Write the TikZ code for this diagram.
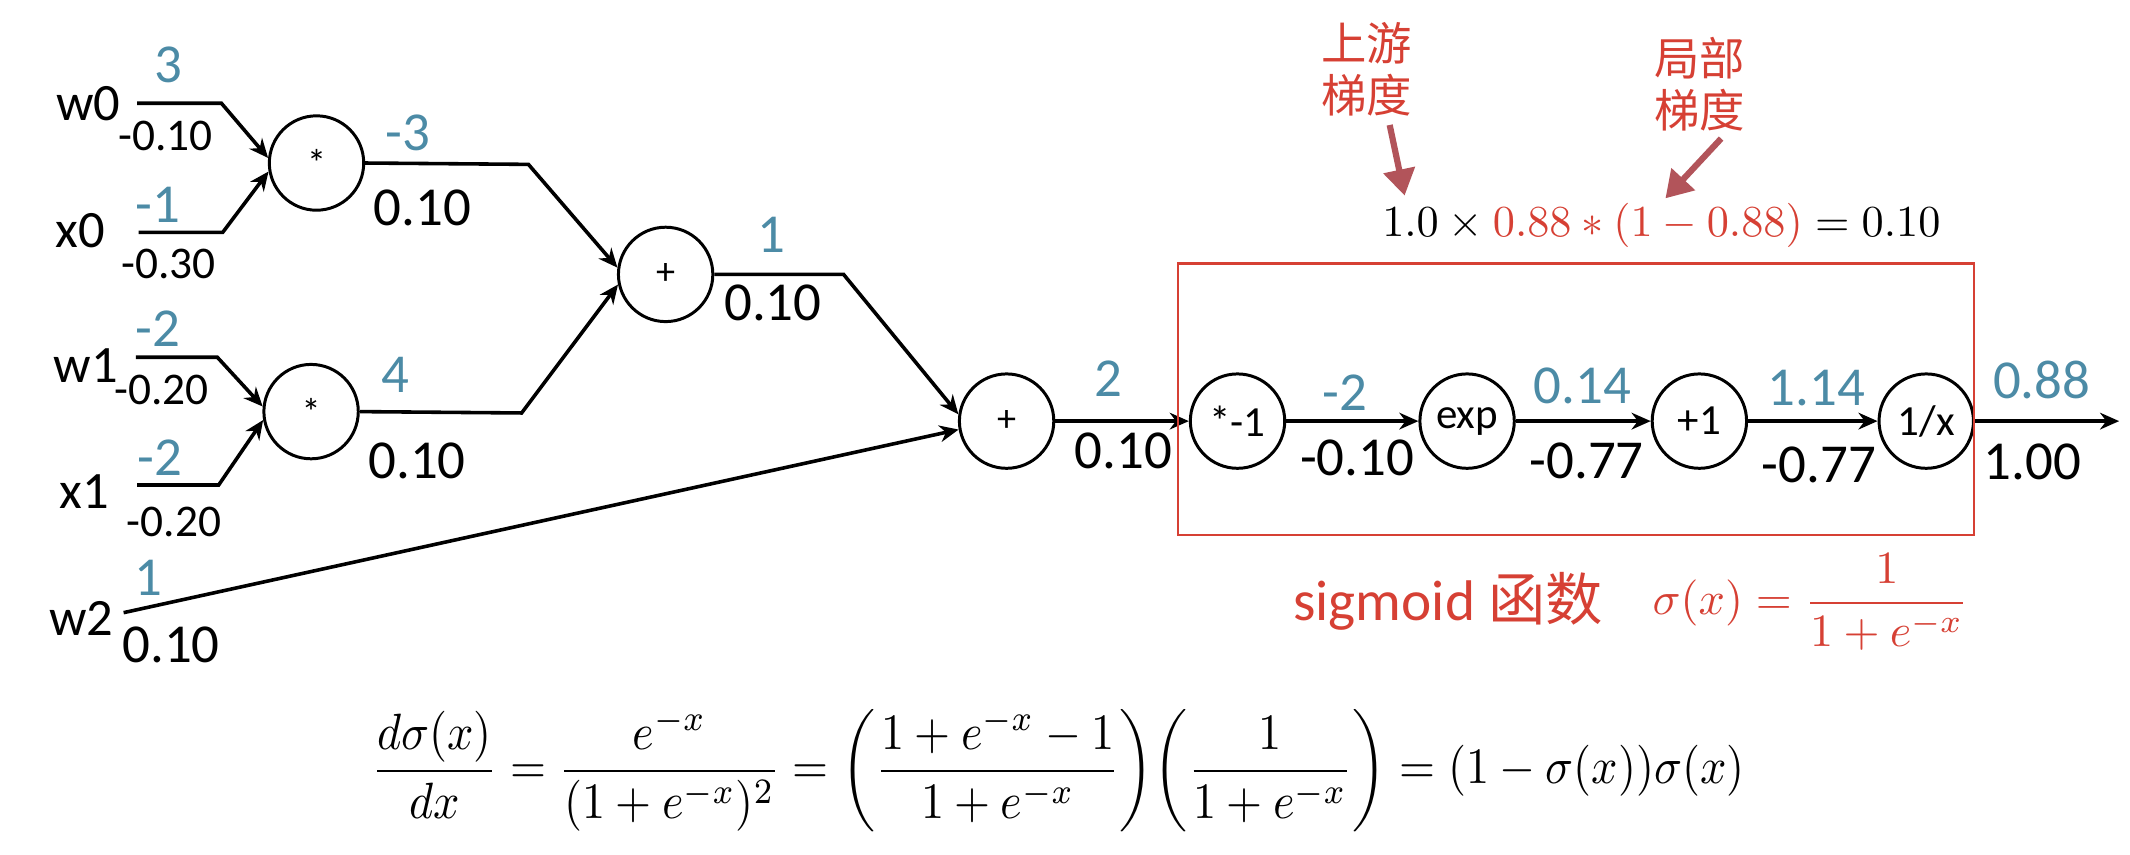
\documentclass[tikz,border=0pt]{standalone}
\usepackage[no-math]{fontspec}
\setmainfont{Carlito}
\newfontfamily\cjk{Noto Sans CJK SC}
\usepackage{amsmath}
\usetikzlibrary{arrows.meta}
\definecolor{gblue}{RGB}{76,139,166}
\definecolor{sred}{RGB}{214,64,52}
\definecolor{ared}{RGB}{178,84,90}
\begin{document}
\begin{tikzpicture}[x=0.02cm, y=-0.02cm,
  op/.style={circle, draw, line width=1.25pt, minimum size=1.39cm, inner sep=0pt, font=\fontsize{18}{18}\selectfont},
  big/.style={font=\fontsize{23}{23}\selectfont, inner sep=0pt},
  bl/.style={big, text=gblue},
  sm/.style={font=\fontsize{19}{19}\selectfont, inner sep=0pt},
  inp/.style={font=\fontsize{22}{22}\selectfont, inner sep=0pt},
  wire/.style={line width=1.5pt},
  arr/.style={wire, -{Stealth[length=8pt,width=7pt]}},
  redarr/.style={line width=2.6pt, ared, -{Triangle[length=11pt,width=13pt]}},
  cjkt/.style={text=sred, font=\cjk\fontsize{19}{21.5}\selectfont, align=center, inner sep=0pt}]
\useasboundingbox (0,0) rectangle (1568,629);
% operation nodes
\node[op, font=\fontsize{16}{16}\selectfont] (m1) at (233,120) {*};
\node[op, font=\fontsize{16}{16}\selectfont] (m2) at (229,303) {*};
\node[op, font=\fontsize{16}{16}\selectfont] (a1) at (490,202) {+};
\node[op, font=\fontsize{16}{16}\selectfont] (a2) at (741,310) {+};
\node[op] (n1) at (911,310) {*-1};
\node[op] (e1) at (1080,310) {exp};
\node[op] (p1) at (1251,310) {+1};
\node[op] (r1) at (1418,310) {1/x};
% input names
\node[inp] (w0) at (65,76) {w0};
\node[inp] (x0) at (59,170) {x0};
\node[inp] (w1) at (63,269) {w1};
\node[inp] (x1) at (62,362) {x1};
\node[inp] (w2) at (60,455) {w2};
% wire coordinates
\coordinate (w0s) at (101,76);  \coordinate (w0k) at (163,76);
\coordinate (x0s) at (102,171); \coordinate (x0k) at (164,171);
\coordinate (w1s) at (100,263); \coordinate (w1k) at (160,263);
\coordinate (x1s) at (101,357); \coordinate (x1k) at (161,357);
\coordinate (w2s) at (91,451);
\coordinate (m1k) at (389,121);
\coordinate (m2k) at (384,304);
\coordinate (a1k) at (621,202);
\coordinate (outE) at (1560,310);
% wires
\draw[arr] (w0s) -- (w0k) -- (m1.174);
\draw[arr] (x0s) -- (x0k) -- (m1.190);
\draw[arr] (w1s) -- (w1k) -- (m2.174);
\draw[arr] (x1s) -- (x1k) -- (m2.190);
\draw[arr] (m1.east) -- (m1k) -- (a1.172);
\draw[arr] (m2.east) -- (m2k) -- (a1.192);
\draw[arr] (a1.east) -- (a1k) -- (a2.172);
\draw[arr] (w2s) -- (a2.190);
\draw[arr] (a2) -- (n1);
\draw[arr] (n1) -- (e1);
\draw[arr] (e1) -- (p1);
\draw[arr] (p1) -- (r1);
\draw[arr] (r1) -- (outE);
% value labels (blue) and gradients (black)
\node[bl] (v1) at (124,48) {3};
\node[sm] (g1) at (122,100) {-0.10};
\node[bl] (v2) at (116,151) {-1};
\node[sm] (g2) at (124,194) {-0.30};
\node[bl] (v3) at (116,242) {-2};
\node[sm] (g3) at (119,287) {-0.20};
\node[bl] (v4) at (118,337) {-2};
\node[sm] (g4) at (128,384) {-0.20};
\node[bl] (v5) at (109,425) {1};
\node[big] (g5) at (126,475) {0.10};
\node[bl] (v6) at (300,98) {-3};
\node[big] (g6) at (311,153) {0.10};
\node[bl] (v7) at (291,276) {4};
\node[big] (g7) at (307,339) {0.10};
\node[bl] (v8) at (568,173) {1};
\node[big] (g8) at (569,223) {0.10};
\node[bl] (v9) at (816,279) {2};
\node[big] (g9) at (827,332) {0.10};
\node[bl] (v10) at (990,289) {-2};
\node[big] (g10) at (999,337) {-0.10};
\node[bl] (v11) at (1165,284) {0.14};
\node[big] (g11) at (1168,339) {-0.77};
\node[bl] (v12) at (1337,286) {1.14};
\node[big] (g12) at (1339,342) {-0.77};
\node[bl] (v13) at (1503,280) {0.88};
\node[big] (g13) at (1496,340) {1.00};
% sigmoid box
\draw[sred, line width=1pt] (867,194) rectangle (1453,394);
\node[text=sred, font=\fontsize{24}{24}\selectfont, inner sep=0pt] (sg) at (1066,443) {sigmoid {\cjk 函数}};
\node[text=sred, inner sep=0pt] (sf) at (1333,443) {\resizebox{4.66cm}{!}{$\displaystyle \sigma(x)=\frac{1}{1+e^{-x}}$}};
% top formula
\node[inner sep=0pt] (tf) at (1223,166) {\resizebox{8.22cm}{!}{$1.0\times{\color{sred}0.88*(1-0.88)}=0.10$}};
\node[cjkt] (up) at (1006,51) {上游\\梯度};
\node[cjkt] (loc) at (1251,62) {局部\\梯度};
\coordinate (up1) at (1023,92); \coordinate (up2) at (1034,144);
\coordinate (lo1) at (1267,102); \coordinate (lo2) at (1226,146);
\draw[redarr] (up1) -- (up2);
\draw[redarr] (lo1) -- (lo2);
% bottom formula
\node[inner sep=0pt] (bf) at (779,567) {\resizebox*{20.22cm}{1.82cm}{$\displaystyle \frac{d\sigma(x)}{dx}=\frac{e^{-x}}{(1+e^{-x})^2}=\left(\frac{1+e^{-x}-1}{1+e^{-x}}\right)\!\left(\frac{1}{1+e^{-x}}\right)=(1-\sigma(x))\sigma(x)$}};
\end{tikzpicture}
\end{document}
